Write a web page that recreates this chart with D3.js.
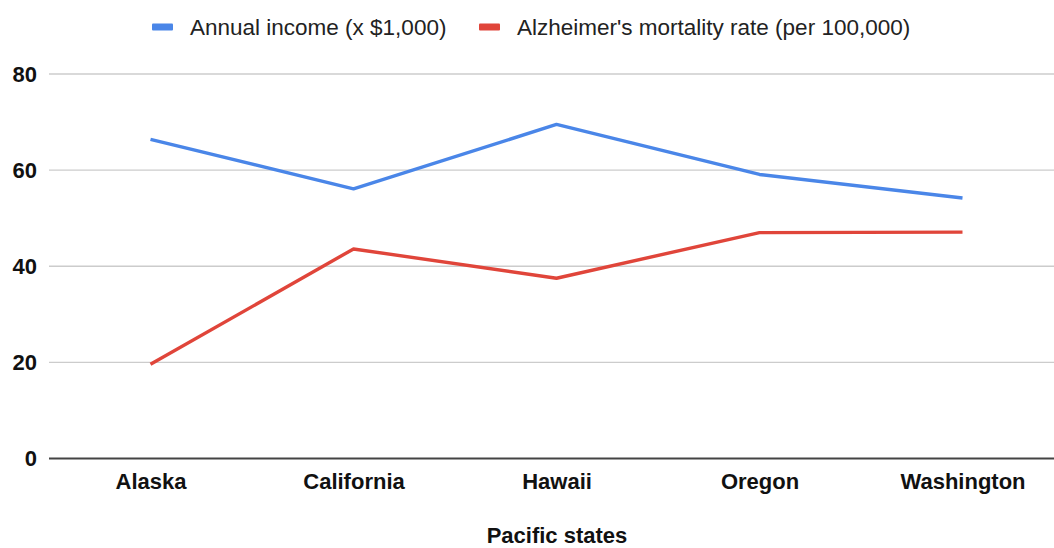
<!DOCTYPE html>
<html>
<head>
<meta charset="utf-8">
<script src="https://cdn.jsdelivr.net/npm/d3@7"></script>
<style>
  html, body { margin: 0; padding: 0; background: #fff; }
  svg { display: block; }
</style>
</head>
<body>
<svg id="chart" width="1054" height="548"></svg>
<script>
// Pacific states: annual income vs Alzheimer's mortality
const states = ["Alaska", "California", "Hawaii", "Oregon", "Washington"];
const income = [66.4, 56.1, 69.5, 59.1, 54.2];
const mortality = [19.6, 43.6, 37.5, 47.0, 47.1];
const yTicks = [0, 20, 40, 60, 80];
const seriesNames = ["Annual income (x $1,000)", "Alzheimer's mortality rate (per 100,000)"];
const seriesColors = ["#4a86e8", "#e0453a"];

const FONT = "'Liberation Sans', Arial, Helvetica, sans-serif";
const svg = d3.select("#chart");
const plotLeft = 49, plotRight = 1064, plotTop = 74, plotBottom = 458.5;

const x = d3.scalePoint().domain(states).range([plotLeft, plotRight]).padding(0.5);
const y = d3.scaleLinear().domain([0, 80]).range([plotBottom, plotTop]);

// horizontal gridlines
svg.append("g")
  .selectAll("line")
  .data(yTicks.filter(d => d !== 0))
  .join("line")
  .attr("x1", plotLeft).attr("x2", 1054)
  .attr("y1", d => y(d)).attr("y2", d => y(d))
  .attr("stroke", "#cccccc").attr("stroke-width", 1.3);

// y tick labels
const yAxis = d3.axisLeft(y).tickValues(yTicks).tickSize(0).tickPadding(12);
const gy = svg.append("g").attr("transform", `translate(${plotLeft},0)`).call(yAxis);
gy.select(".domain").remove();
gy.selectAll("text")
  .attr("font-family", FONT)
  .attr("font-weight", "bold").attr("font-size", 22).attr("fill", "#111");

// baseline
svg.append("line")
  .attr("x1", plotLeft).attr("x2", 1054)
  .attr("y1", y(0)).attr("y2", y(0))
  .attr("stroke", "#444").attr("stroke-width", 2);

// x category labels
const xAxis = d3.axisBottom(x).tickSize(0).tickPadding(15);
const gx = svg.append("g").attr("transform", `translate(0,${plotBottom})`).call(xAxis);
gx.select(".domain").remove();
gx.selectAll("text")
  .attr("font-family", FONT)
  .attr("font-weight", "bold").attr("font-size", 22).attr("fill", "#111");

// axis title
svg.append("text")
  .attr("x", 557).attr("y", 543)
  .attr("text-anchor", "middle")
  .attr("font-family", FONT)
  .attr("font-weight", "bold").attr("font-size", 22).attr("fill", "#111")
  .text("Pacific states");

// series lines
const line = d3.line().x((d, i) => x(states[i])).y(d => y(d));
[income, mortality].forEach((vals, k) => {
  svg.append("path")
    .datum(vals)
    .attr("d", line)
    .attr("fill", "none")
    .attr("stroke", seriesColors[k])
    .attr("stroke-width", 3.4)
    .attr("stroke-linejoin", "round");
});

// legend
const legendX = [152, 479];
seriesNames.forEach((name, k) => {
  const g = svg.append("g").attr("transform", `translate(${legendX[k]},27)`);
  g.append("rect").attr("x", 0).attr("y", -3.5).attr("width", 21).attr("height", 7)
    .attr("rx", 1).attr("fill", seriesColors[k]);
  g.append("text").attr("x", 38).attr("y", 8)
    .attr("font-family", FONT)
    .attr("font-size", 22.5).attr("fill", "#222")
    .text(name);
});
</script>
</body>
</html>
